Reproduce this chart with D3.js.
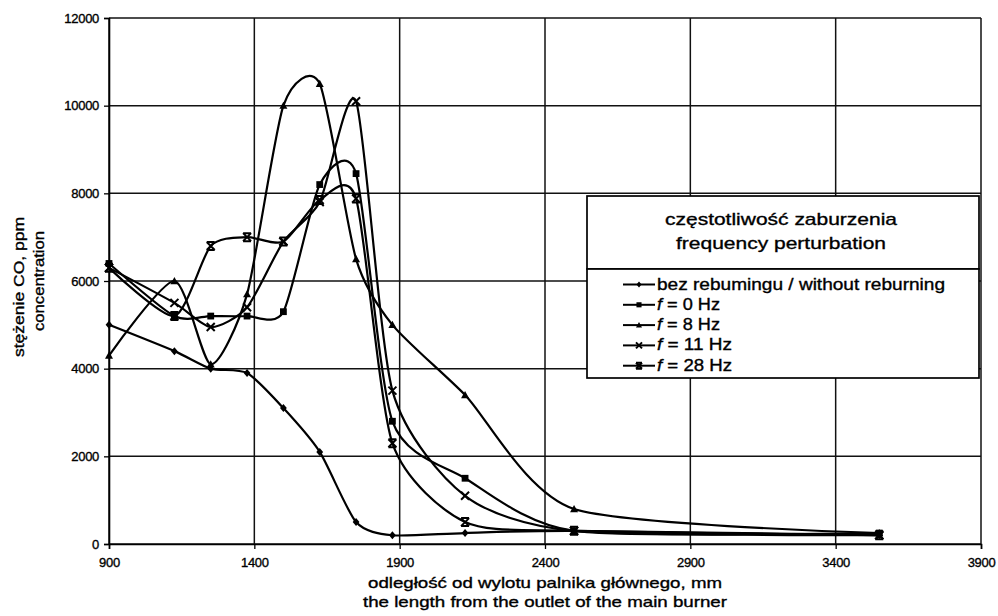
<!DOCTYPE html>
<html><head><meta charset="utf-8">
<script src="https://cdn.jsdelivr.net/npm/d3@7"></script>
<style>body{margin:0;background:#fff}svg{display:block}text{font-family:"Liberation Sans",Arial,sans-serif;fill:#000;stroke:#000;stroke-width:0.35px}</style>
</head><body><svg id="c" width="998" height="616"></svg>
<script>
// ---- data ----
const distances = [900,1125,1250,1375,1500,1625,1750,1875,2125,2500,3550];
const bezReburningu = [5000,4400,4000,3900,3100,2100,500,200,250,300,200];
const f0Hz  = [6400,5200,5200,5200,5300,8200,8450,2800,1500,300,250];
const f8Hz  = [4300,6000,4100,5700,10000,10500,6500,5000,3400,800,250];
const f11Hz = [6300,5500,4950,5400,6900,7800,10100,3500,1100,300,200];
const f28Hz = [6300,5200,6800,7000,6900,7850,7880,2300,500,300,200];
const seriesLabels = ["bez rebumingu / without reburning","f = 0 Hz","f = 8 Hz","f = 11 Hz","f = 28 Hz"];
const markerTypes = ["diamond","square","triangle","x","star"];
const xTicks = [900,1400,1900,2400,2900,3400,3900];
const yTicks = [0,2000,4000,6000,8000,10000,12000];
const legendTitle = ["częstotliwość zaburzenia","frequency perturbation"];
const xTitle = ["odległość od wylotu palnika głównego, mm","the length from the outlet of the main burner"];
const yTitle = ["stężenie CO, ppm","concentration"];

const allSeries = [bezReburningu,f0Hz,f8Hz,f11Hz,f28Hz];

const svg = d3.select("#c");
const L=109,R=981,T=18,B=544;
const x = d3.scaleLinear().domain([900,3900]).range([L,R]);
const y = d3.scaleLinear().domain([0,12000]).range([B,T]);
const ink="#000";

// grid
const g = svg.append("g");
g.selectAll(".hg").data(yTicks).join("line")
  .attr("x1",L).attr("x2",R).attr("y1",d=>y(d)).attr("y2",d=>y(d))
  .attr("stroke","#111").attr("stroke-width",1.5);
g.selectAll(".vg").data(xTicks).join("line")
  .attr("y1",T).attr("y2",B).attr("x1",d=>x(d)).attr("x2",d=>x(d))
  .attr("stroke","#111").attr("stroke-width",1.5);

// axes
const xa = svg.append("g").attr("transform",`translate(0,${B})`)
  .call(d3.axisBottom(x).tickValues(xTicks).tickSize(5).tickPadding(9).tickFormat(d3.format("d")));
const ya = svg.append("g").attr("transform",`translate(${L},0)`)
  .call(d3.axisLeft(y).tickValues(yTicks).tickSize(5).tickPadding(5).tickFormat(d3.format("d")));
[xa,ya].forEach(a=>{
  a.select(".domain").attr("stroke",ink).attr("stroke-width",1.6);
  a.selectAll(".tick line").attr("stroke",ink).attr("stroke-width",1.3);
  a.selectAll(".tick text").attr("font-size",13).attr("fill",ink)
   .style("font-family",'"Liberation Sans",Arial,sans-serif').style("letter-spacing","-0.3px");
});

// markers
function marker(sel,type,s){
  if(type==="diamond") sel.append("path").attr("d",`M0,${-s}L${s*0.85},0L0,${s}L${-s*0.85},0Z`).attr("fill",ink);
  else if(type==="square") sel.append("rect").attr("x",-s*0.85).attr("y",-s*0.85).attr("width",s*1.7).attr("height",s*1.7).attr("fill",ink);
  else if(type==="triangle") sel.append("path").attr("d",`M0,${-s}L${s},${s*0.8}L${-s},${s*0.8}Z`).attr("fill",ink);
  else if(type==="x") sel.append("path").attr("d",`M${-s},${-s}L${s},${s}M${-s},${s}L${s},${-s}`).attr("stroke",ink).attr("stroke-width",2);
  else if(type==="star") sel.append("path").attr("d",`M${-s},${-s}L${s},${s}M${-s},${s}L${s},${-s}M${-s},${-s}L${s},${-s}M${-s},${s}L${s},${s}`).attr("stroke",ink).attr("stroke-width",2);
}

const line = d3.line().x(d=>x(d[0])).y(d=>y(d[1])).curve(d3.curveCardinal.tension(0.3));
allSeries.forEach((vals,i)=>{
  const pts = distances.map((d,j)=>[d,vals[j]]);
  svg.append("path").datum(pts).attr("d",line).attr("fill","none").attr("stroke",ink).attr("stroke-width",2.2);
  pts.forEach(p=>{
    const m = svg.append("g").attr("transform",`translate(${x(p[0])},${y(p[1])})`);
    marker(m,markerTypes[i],4);
  });
});

// legend
const lg = svg.append("g");
lg.append("rect").attr("x",587).attr("y",196).attr("width",392).attr("height",73).attr("fill","#fff").attr("stroke",ink).attr("stroke-width",1.7);
lg.append("rect").attr("x",587).attr("y",269).attr("width",392).attr("height",109).attr("fill","#fff").attr("stroke",ink).attr("stroke-width",1.7);
lg.append("text").attr("x",781).attr("y",225).attr("text-anchor","middle").attr("font-size",17)
  .attr("textLength",232).attr("lengthAdjust","spacingAndGlyphs").text(legendTitle[0]);
lg.append("text").attr("x",781).attr("y",249).attr("text-anchor","middle").attr("font-size",17)
  .attr("textLength",210).attr("lengthAdjust","spacingAndGlyphs").text(legendTitle[1]);
const legendWidths=[288,63,63,75,75];
seriesLabels.forEach((lab,i)=>{
  const by = 289.5 + i*20.3;
  lg.append("line").attr("x1",623).attr("x2",655).attr("y1",by-5).attr("y2",by-5).attr("stroke",ink).attr("stroke-width",2);
  const m = lg.append("g").attr("transform",`translate(639,${by-5})`);
  marker(m,markerTypes[i],3);
  const t = lg.append("text").attr("x",657).attr("y",by).attr("font-size",16)
    .attr("textLength",legendWidths[i]).attr("lengthAdjust","spacingAndGlyphs");
  if(i===0) t.text(lab);
  else { t.append("tspan").attr("font-style","italic").text("f"); t.append("tspan").text(lab.slice(1)); }
});

// axis titles
xTitle.forEach((s,i)=>{
  svg.append("text").attr("x",545).attr("y",588+i*19).attr("text-anchor","middle").attr("font-size",15)
    .attr("textLength",i===0?354:364).attr("lengthAdjust","spacingAndGlyphs").text(s);
});
svg.append("text").attr("transform","translate(24,287) rotate(-90)").attr("text-anchor","middle").attr("font-size",14)
  .attr("textLength",140).attr("lengthAdjust","spacingAndGlyphs").text(yTitle[0]);
svg.append("text").attr("transform","translate(44,281) rotate(-90)").attr("text-anchor","middle").attr("font-size",14)
  .attr("textLength",100).attr("lengthAdjust","spacingAndGlyphs").text(yTitle[1]);
</script></body></html>
